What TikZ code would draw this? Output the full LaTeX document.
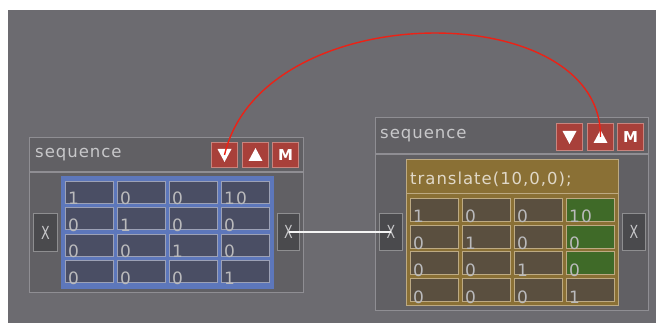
\documentclass[tikz,border=0pt]{standalone}
\usepackage{fontspec}
\newfontfamily\ui[LetterSpace=6]{DejaVu Sans}
\newfontfamily\uiplain{DejaVu Sans}
\definecolor{pagebg}{HTML}{6C6B70}
\definecolor{framefill}{HTML}{616064}
\definecolor{frameline}{HTML}{8F8E93}
\definecolor{btnfill}{HTML}{A8403A}
\definecolor{btnline}{HTML}{C8847E}
\definecolor{portfill}{HTML}{4A4A4D}
\definecolor{portline}{HTML}{8E8E90}
\definecolor{bluebox}{HTML}{5D77BB}
\definecolor{bcellfill}{HTML}{4A4E64}
\definecolor{bcellline}{HTML}{9CA1B6}
\definecolor{goldbox}{HTML}{8A7035}
\definecolor{gcellfill}{HTML}{5A4F3F}
\definecolor{gcellline}{HTML}{BDAA83}
\definecolor{greencell}{HTML}{3F6A28}
\definecolor{celltext}{HTML}{BABABC}
\definecolor{titletext}{HTML}{C8C8CA}
\definecolor{codetext}{HTML}{E0D8C8}
\definecolor{wire}{HTML}{EC2216}
\tikzset{
  frame/.style={draw=frameline, fill=framefill, line width=1.2pt, inner sep=0pt, anchor=north west},
  btn/.style={draw=btnline, fill=btnfill, line width=1pt, minimum width=26pt, inner sep=0pt, anchor=north west},
  port/.style={draw=portline, fill=portfill, line width=1pt, minimum width=23pt, minimum height=37pt, inner sep=0pt, anchor=north west, text=titletext, font=\uiplain\fontsize{18}{18}\selectfont},
  title/.style={anchor=west, inner sep=0pt, text=titletext, font=\ui\fontsize{16.5}{17}\selectfont},
  celltxt/.style={anchor=base west, inner sep=0pt, text=celltext, font=\ui\fontsize{17}{17}\selectfont},
  tri/.style={fill=white},
  btnmark/.style={text=white, inner sep=0pt, font=\uiplain\bfseries\fontsize{15}{15}\selectfont},
}
\begin{document}
\begin{tikzpicture}[x=1pt,y=-1pt]
\useasboundingbox (0,0) rectangle (657,323);
\fill[white] (0,0) rectangle (657,323);
\fill[pagebg] (8,10) rectangle (656,323);

% ---------- left node ----------
\node[frame, minimum width=274pt, minimum height=155pt] (L) at (29,137) {};
\draw[frameline, line width=1.2pt] (L.west |- 0,172) -- (L.east |- 0,172);
\node[title] (Ltitle) at (35,155) {sequence};
\node[btn, minimum height=25pt] (Ldn) at (211,142) {};
\node[btn, minimum height=25pt] (Lup) at (242,142) {};
\node[btn, minimum height=25pt] (LM) at (272,142) {};
\fill[tri] ([shift={(-7,-6)}]Ldn.center) -- ([shift={(7,-6)}]Ldn.center) -- ([shift={(0,7)}]Ldn.center) -- cycle;
\fill[tri] ([shift={(-7,6)}]Lup.center) -- ([shift={(7,6)}]Lup.center) -- ([shift={(0,-7)}]Lup.center) -- cycle;
\node[btnmark] (LMt) at (LM.center) {M};
\node[port, minimum width=24pt, minimum height=38pt] (Lin) at (33,213) {\scalebox{0.7}[1]{X}};
\node[port, minimum width=22pt] (Lout) at (277,213) {\scalebox{0.7}[1]{X}};
\node[draw=bluebox, fill=bluebox, line width=1pt, inner sep=0pt, anchor=north west, minimum width=212pt, minimum height=112pt] (Lmat) at (61,176) {};
\foreach \r/\vals in {1/{1,0,0,10},2/{0,1,0,0},3/{0,0,1,0},4/{0,0,0,1}}{
  \foreach \v [count=\c] in \vals {
    \node[draw=bcellline, fill=bcellfill, line width=1pt, inner sep=0pt, anchor=north west, minimum width=48pt, minimum height=22pt] (L-\r-\c) at ({65+(\c-1)*52},{181+(\r-1)*26.5}) {};
    \node[celltxt] (Lt-\r-\c) at ([shift={(3,1)}]L-\r-\c.south west) {\v};
  }
}

% ---------- right node ----------
\node[frame, minimum width=273pt, minimum height=193pt] (R) at (375,117) {};
\draw[frameline, line width=1.2pt] (R.west |- 0,154) -- (R.east |- 0,154);
\node[title] (Rtitle) at (380,136) {sequence};
\node[btn, minimum height=27pt] (Rdn) at (556,123) {};
\node[btn, minimum height=27pt] (Rup) at (587,123) {};
\node[btn, minimum height=27pt] (RM) at (617,123) {};
\fill[tri] ([shift={(-7,-6)}]Rdn.center) -- ([shift={(7,-6)}]Rdn.center) -- ([shift={(0,7)}]Rdn.center) -- cycle;
\fill[tri] ([shift={(-7,6)}]Rup.center) -- ([shift={(7,6)}]Rup.center) -- ([shift={(0,-7)}]Rup.center) -- cycle;
\node[btnmark] (RMt) at (RM.center) {M};
\node[port] (Rin) at (379,213) {\scalebox{0.7}[1]{X}};
\node[port] (Rout) at (622,213) {\scalebox{0.7}[1]{X}};
\node[draw=gcellline, fill=goldbox, line width=1pt, inner sep=0pt, anchor=north west, minimum width=212pt, minimum height=146pt] (Rmat) at (406,159) {};
\draw[gcellline, line width=1pt] (Rmat.west |- 0,194) -- (Rmat.east |- 0,194);
\node[anchor=west, inner sep=0pt, text=codetext, font=\ui\fontsize{16.5}{17}\selectfont] (code) at (410,179) {translate(10,0,0);};
\foreach \r/\vals in {1/{1,0,0,10},2/{0,1,0,0},3/{0,0,1,0},4/{0,0,0,1}}{
  \foreach \v [count=\c] in \vals {
    \pgfmathtruncatemacro\isgreen{and(\c==4,\r<4)}
    \ifnum\isgreen=1 \def\cf{greencell}\else\def\cf{gcellfill}\fi
    \node[draw=gcellline, fill=\cf, line width=1pt, inner sep=0pt, anchor=north west, minimum width=48pt, minimum height=23pt] (R-\r-\c) at ({410+(\c-1)*52},{198+(\r-1)*26.7}) {};
    \node[celltxt] (Rt-\r-\c) at ([shift={(3,1)}]R-\r-\c.south west) {\v};
  }
}

% ---------- connectors ----------
\draw[white!92!gray, line width=1.4pt] (Lout.center) -- (Rin.center);
\draw[wire, line width=1.4pt] (Ldn.center) .. controls (262,-4.5) and (602,-4.5) .. (Rup.center);
\end{tikzpicture}
\end{document}
